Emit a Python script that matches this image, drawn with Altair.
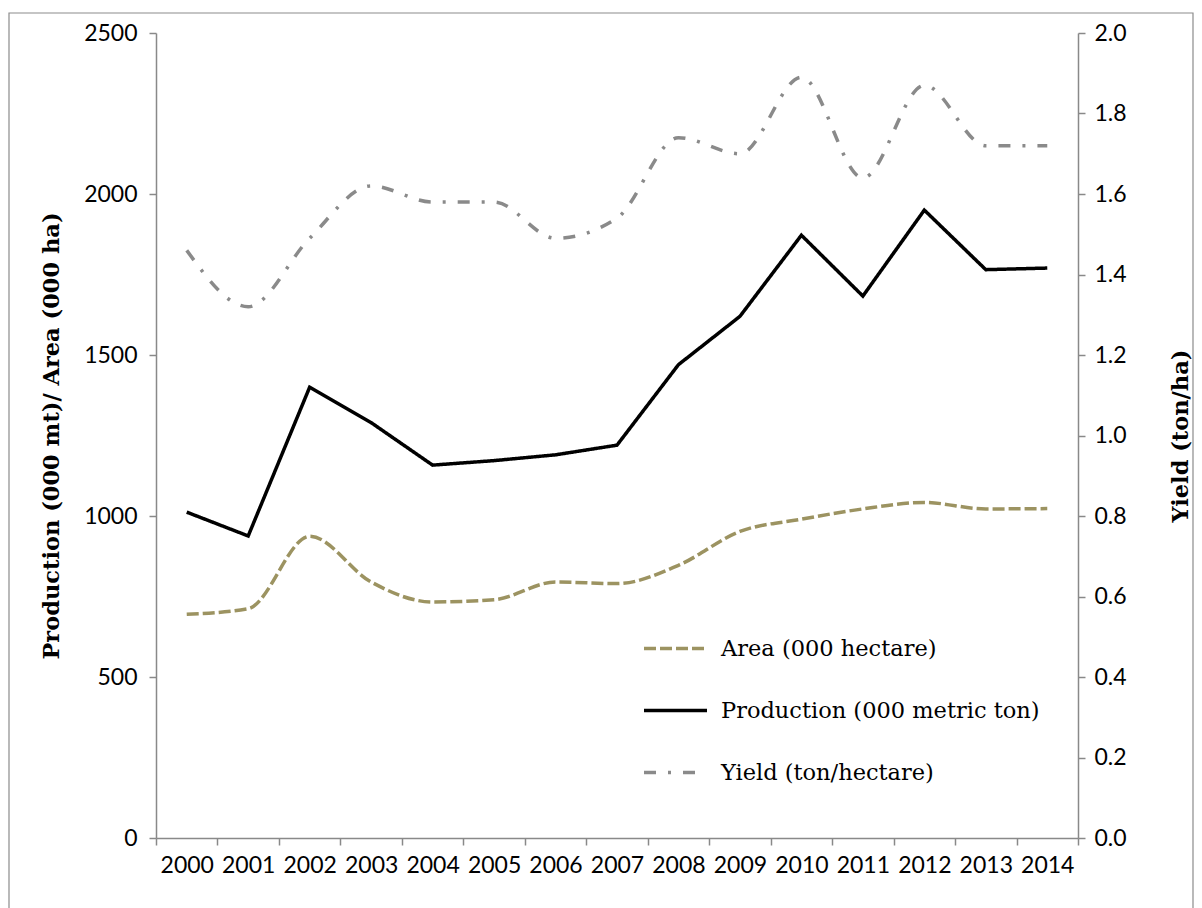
import altair as alt
import pandas as pd

years = [str(y) for y in range(2000, 2015)]
area = [695, 712, 937, 795, 733, 740, 795, 790, 847, 952, 990, 1022, 1042, 1022, 1023]
production = [1012, 938, 1400, 1290, 1158, 1172, 1190, 1220, 1470, 1620, 1872, 1683, 1950, 1765, 1770]
yield_ = [1.46, 1.32, 1.49, 1.62, 1.58, 1.58, 1.49, 1.54, 1.74, 1.70, 1.89, 1.64, 1.87, 1.72, 1.72]

names = ["Area (000 hectare)", "Production (000 metric ton)", "Yield (ton/hectare)"]
colors = ["#9c9361", "#000000", "#8a8a8a"]
dashes = [[12, 4], [1, 0], [12, 12, 3, 12]]

df_area = pd.DataFrame({"year": years, "value": area, "series": names[0]})
df_prod = pd.DataFrame({"year": years, "value": production, "series": names[1]})
df_yield = pd.DataFrame({"year": years, "value": yield_, "series": names[2]})

GRAY = "#898989"
TICK_FONT = "Lato"
TICK_SIZE = 23

xenc = alt.X(
    "year:O",
    title=None,
    bandPosition=0.5,
    scale=alt.Scale(type="band", paddingInner=0, paddingOuter=0),
    axis=alt.Axis(
        tickBand="extent", labelAngle=0, domainColor=GRAY, tickColor=GRAY,
        tickSize=7, labelFont=TICK_FONT, labelFontSize=TICK_SIZE, labelColor="black",
        labelPadding=9, domainWidth=1.5, tickWidth=1.5,
    ),
)

color = alt.Color("series:N", scale=alt.Scale(domain=names, range=colors),
                  legend=alt.Legend(
                      title=None, orient="none", legendX=486, legendY=582,
                      symbolType="stroke", symbolSize=3969, symbolStrokeWidth=3.5,
                      labelFont="DejaVu Serif", labelFontSize=22.5, labelColor="black",
                      labelOffset=12, rowPadding=17, labelLimit=500,
                  ))
dash = alt.StrokeDash("series:N", scale=alt.Scale(domain=names, range=dashes), legend=None)

left_axis = alt.Axis(
    values=[0, 500, 1000, 1500, 2000, 2500], format="d", grid=False, domainColor=GRAY,
    tickColor=GRAY, tickSize=7, labelFont=TICK_FONT, labelFontSize=TICK_SIZE,
    labelColor="black", labelPadding=12, title="Production (000 mt)/ Area (000 ha)",
    titleFont="DejaVu Serif", titleFontWeight="bold", titleFontSize=22.5, titleColor="black",
    titlePadding=20, domainWidth=1.5, tickWidth=1.5,
)
yleft = alt.Y("value:Q", scale=alt.Scale(domain=[0, 2500], nice=False), axis=left_axis)

area_line = alt.Chart(df_area).mark_line(strokeWidth=3.5, interpolate="monotone").encode(
    x=xenc, y=yleft, color=color, strokeDash=dash)
prod_line = alt.Chart(df_prod).mark_line(strokeWidth=3.5, interpolate="linear").encode(
    x=xenc, y=yleft, color=color, strokeDash=dash)

right_axis = alt.Axis(
    orient="right", values=[0, 0.2, 0.4, 0.6, 0.8, 1.0, 1.2, 1.4, 1.6, 1.8, 2.0], format=".1f",
    grid=False, domainColor=GRAY, tickColor=GRAY, tickSize=7, labelFont=TICK_FONT,
    labelFontSize=TICK_SIZE, labelColor="black", labelPadding=9, title="Yield (ton/ha)",
    titleFont="DejaVu Serif", titleFontWeight="bold", titleFontSize=22.5, titleColor="black",
    titleAngle=270, titlePadding=66, domainWidth=1.5, tickWidth=1.5,
)
yield_line = alt.Chart(df_yield).mark_line(strokeWidth=3.5, interpolate="monotone").encode(
    x=xenc,
    y=alt.Y("value:Q", scale=alt.Scale(domain=[0, 2], nice=False), axis=right_axis),
    color=color, strokeDash=dash)

border = alt.Chart(pd.DataFrame({"a": [0]})).mark_rect(
    fill=None, stroke="#8c8c8c", strokeWidth=1.2, clip=False
).encode(x=alt.value(-147), x2=alt.value(1037), y=alt.value(-20), y2=alt.value(900))

left = alt.layer(area_line, prod_line)
chart = alt.layer(left, yield_line, border).resolve_scale(y="independent").properties(
    width=922, height=805, padding={"left": 8, "top": 12, "right": 0, "bottom": 0},
    background="white",
).configure_view(stroke=None)

chart.save("out.html", embed_options={"renderer": "svg", "actions": False})
